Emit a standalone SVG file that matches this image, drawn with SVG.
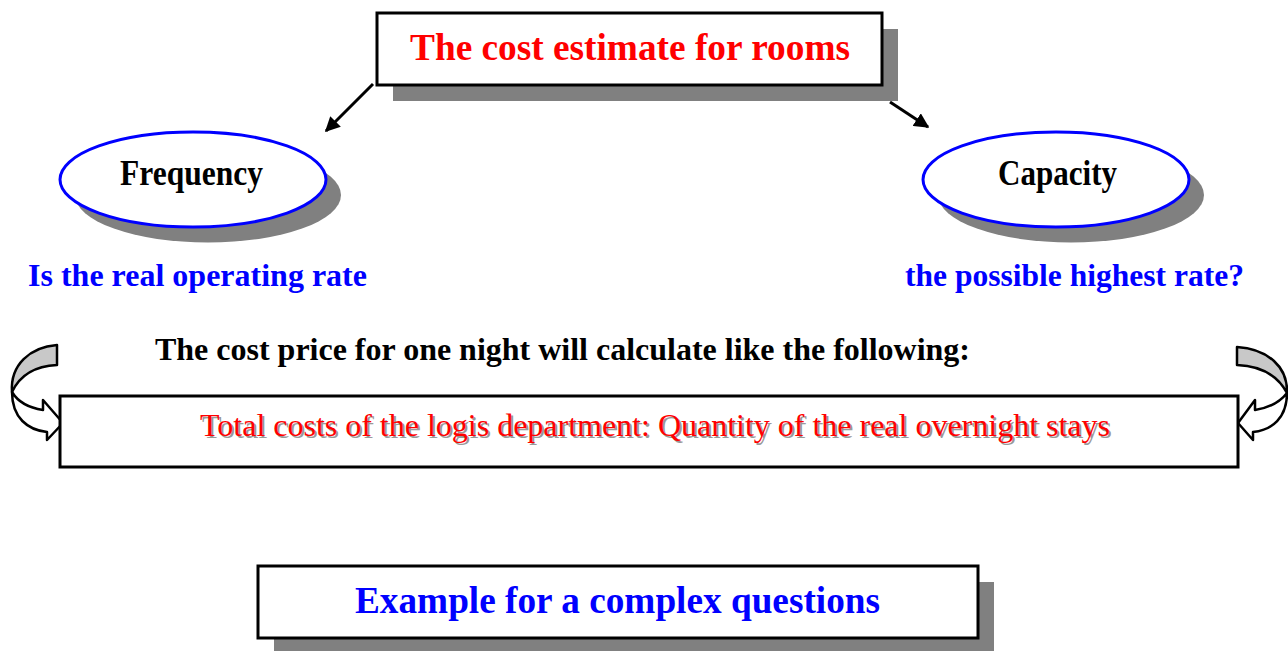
<svg xmlns="http://www.w3.org/2000/svg" width="1288" height="651" viewBox="0 0 1288 651">
<defs>
<style>
.bx{fill:#fff;stroke:#000;stroke-width:3}
.sh{fill:#808080}
.el{fill:#fff;stroke:#0000ff;stroke-width:3}
.t{font-family:"Liberation Serif","Times New Roman",serif}
.b{font-weight:bold}
.ln{stroke:#000;stroke-width:3;fill:none}
.ca{stroke:#000;stroke-width:2.5;stroke-linejoin:round}
</style>
<marker id="ah" viewBox="0 0 10 10" refX="9" refY="5" markerWidth="5" markerHeight="5" orient="auto" markerUnits="strokeWidth">
<path d="M0,0 L10,5 L0,10 Z" fill="#000"/>
</marker>
</defs>
<rect width="1288" height="651" fill="#fff"/>

<g id="title">
<rect class="sh" x="393" y="29" width="505" height="72"/>
<rect class="bx" x="377" y="13" width="505" height="72"/>
<text class="t b" x="410" y="60" font-size="37" fill="#ff0000" textLength="440" lengthAdjust="spacingAndGlyphs">The cost estimate for rooms</text>
</g>

<g id="connectors">
<line class="ln" x1="373" y1="84" x2="326" y2="131" marker-end="url(#ah)"/>
<line class="ln" x1="890" y1="102" x2="928" y2="127" marker-end="url(#ah)"/>
<g id="curved-left">
<path class="ca" fill="#c8c8c8" d="M57,345 C30,347 10,365 12,392 C20,375 35,366 57,365 Z"/>
<path class="ca" fill="#fff" d="M12,392 C12,418 28,430 47,432 L47,440 L63,423 L43,400 L43,410 C30,408 18,402 12,392 Z"/>
</g>
<g id="curved-right">
<path class="ca" fill="#c8c8c8" d="M1237,347 C1268,349 1288,367 1287,393 C1278,376 1262,366 1237,365 Z"/>
<path class="ca" fill="#fff" d="M1287,393 C1287,418 1272,430 1253,432 L1253,440 L1238,423 L1255,400 L1255,410 C1268,408 1280,402 1287,393 Z"/>
</g>
</g>

<g id="frequency">
<ellipse class="sh" cx="208" cy="195" rx="133" ry="47.5"/>
<ellipse class="el" cx="193" cy="179.5" rx="133" ry="47.5"/>
<text class="t b" x="120" y="185" font-size="35" fill="#000" textLength="143" lengthAdjust="spacingAndGlyphs">Frequency</text>
</g>

<g id="capacity">
<ellipse class="sh" cx="1071" cy="195" rx="133" ry="47.5"/>
<ellipse class="el" cx="1056" cy="179.5" rx="133" ry="47.5"/>
<text class="t b" x="998" y="185" font-size="35" fill="#000" textLength="119" lengthAdjust="spacingAndGlyphs">Capacity</text>
</g>

<g id="labels">
<text class="t b" x="28" y="286" font-size="31" fill="#0000ff" textLength="339" lengthAdjust="spacingAndGlyphs">Is the real operating rate</text>
<text class="t b" x="905" y="286" font-size="31" fill="#0000ff" textLength="339" lengthAdjust="spacingAndGlyphs">the possible highest rate?</text>
<text class="t b" x="155" y="360" font-size="32" fill="#000" textLength="815" lengthAdjust="spacingAndGlyphs">The cost price for one night will calculate like the following:</text>
</g>

<g id="formula">
<rect class="bx" x="60" y="396" width="1178" height="71"/>
<text class="t" x="202" y="438" font-size="31" fill="#999" textLength="910" lengthAdjust="spacingAndGlyphs">Total costs of the logis department: Quantity of the real overnight stays</text>
<text class="t" x="200" y="436" font-size="31" fill="#ff0000" textLength="910" lengthAdjust="spacingAndGlyphs">Total costs of the logis department: Quantity of the real overnight stays</text>
</g>

<g id="example">
<rect class="sh" x="274" y="582" width="720" height="72"/>
<rect class="bx" x="258" y="566" width="720" height="72"/>
<text class="t b" x="355" y="613" font-size="37" fill="#0000ff" textLength="525" lengthAdjust="spacingAndGlyphs">Example for a complex questions</text>
</g>
</svg>
